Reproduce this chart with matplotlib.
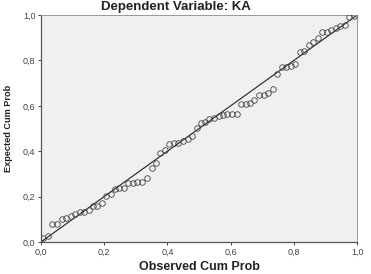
import numpy as np
import matplotlib
matplotlib.use("Agg")
import matplotlib.pyplot as plt
from matplotlib.ticker import FuncFormatter

# observed vs expected cumulative probability
observed = [0.005, 0.021, 0.036, 0.052, 0.065, 0.079, 0.094, 0.108, 0.122, 0.136,
            0.151, 0.165, 0.178, 0.193, 0.206, 0.220, 0.234, 0.248, 0.263, 0.276,
            0.290, 0.305, 0.319, 0.334, 0.350, 0.365, 0.378, 0.391, 0.406, 0.420,
            0.435, 0.449, 0.464, 0.479, 0.492, 0.505, 0.519, 0.533, 0.547, 0.562,
            0.576, 0.590, 0.603, 0.619, 0.633, 0.647, 0.661, 0.675, 0.690, 0.704,
            0.718, 0.733, 0.748, 0.763, 0.776, 0.790, 0.805, 0.819, 0.832, 0.847,
            0.861, 0.876, 0.889, 0.904, 0.918, 0.932, 0.946, 0.961, 0.975, 0.989]
expected = [0.016, 0.028, 0.079, 0.079, 0.100, 0.104, 0.113, 0.122, 0.132, 0.133,
            0.141, 0.157, 0.157, 0.173, 0.201, 0.211, 0.233, 0.236, 0.239, 0.258,
            0.260, 0.265, 0.265, 0.280, 0.328, 0.348, 0.393, 0.405, 0.430, 0.435,
            0.438, 0.443, 0.453, 0.468, 0.503, 0.523, 0.529, 0.541, 0.547, 0.557,
            0.560, 0.566, 0.566, 0.566, 0.607, 0.609, 0.611, 0.626, 0.647, 0.648,
            0.657, 0.674, 0.740, 0.770, 0.771, 0.777, 0.784, 0.839, 0.840, 0.870,
            0.883, 0.899, 0.924, 0.924, 0.933, 0.944, 0.952, 0.956, 0.993, 0.996]
diag = [0.0, 1.0]
ticks = [0.0, 0.2, 0.4, 0.6, 0.8, 1.0]

plt.rcParams['font.family'] = ['Liberation Sans', 'DejaVu Sans']

fig = plt.figure(figsize=(3.71, 2.74), dpi=100)
ax = fig.add_axes([0.1105, 0.117, 0.852, 0.828])
ax.set_facecolor('#f0f0f0')

ax.plot(diag, diag, color='#222222', linewidth=0.8, zorder=2)
ax.plot(observed, expected, linestyle='none', marker='o', markersize=4.0,
        markerfacecolor='none', markeredgecolor='#444444', markeredgewidth=0.6, zorder=3)

ax.set_xlim(0, 1)
ax.set_ylim(0, 1)
ax.set_xticks(ticks)
ax.set_yticks(ticks)
fmt = FuncFormatter(lambda v, p: ('%.1f' % v).replace('.', ','))
ax.xaxis.set_major_formatter(fmt)
ax.yaxis.set_major_formatter(fmt)
ax.tick_params(labelsize=6.5, length=2.5, width=0.7, colors='#444444', pad=1.5)

for s in ['left', 'bottom']:
    ax.spines[s].set_color('#555555')
    ax.spines[s].set_linewidth(0.9)
for s in ['top', 'right']:
    ax.spines[s].set_color('#999999')
    ax.spines[s].set_linewidth(0.7)

fig.text(0.474, 0.975, 'Dependent Variable: KA', fontsize=9.5, fontweight='bold',
         color='#222222', ha='center', va='center')
ax.set_xlabel('Observed Cum Prob', fontsize=9, fontweight='bold', color='#222222', labelpad=3)
ax.set_ylabel('Expected Cum Prob', fontsize=6.6, fontweight='bold', color='#222222', labelpad=7)

plt.savefig('out.png', dpi=100)
